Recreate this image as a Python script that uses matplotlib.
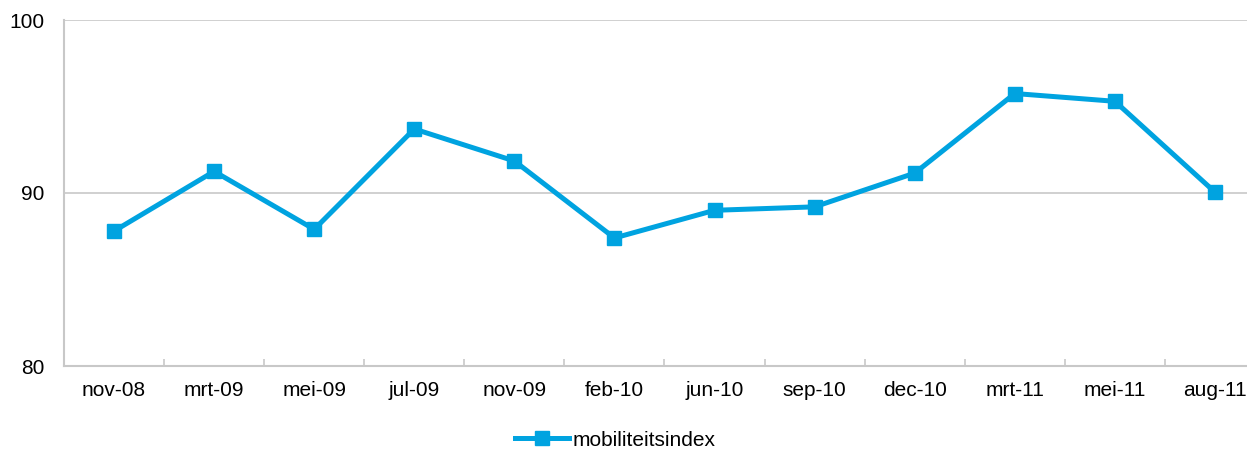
import matplotlib
matplotlib.use("Agg")
import matplotlib.pyplot as plt
from matplotlib.ticker import FixedLocator

categories = ["nov-08", "mrt-09", "mei-09", "jul-09", "nov-09", "feb-10",
              "jun-10", "sep-10", "dec-10", "mrt-11", "mei-11", "aug-11"]
values = [87.8, 91.25, 87.9, 93.7, 91.85, 87.4, 89.0, 89.2, 91.15, 95.75, 95.3, 90.05]
series_name = "mobiliteitsindex"
yticks = [80, 90, 100]

plt.rcParams['font.family'] = ['Liberation Sans', 'DejaVu Sans']

fig = plt.figure(figsize=(12.47, 4.51), dpi=100)
ax = fig.add_axes([64/1247, 85/451, 1201/1247, 346/451])

x = list(range(len(categories)))
color = "#00A3E0"
ax.plot(x, values, color=color, linewidth=3.6, marker="s", markersize=10,
        label=series_name, solid_joinstyle="miter", zorder=3)

ax.set_xlim(-0.5, len(categories) - 0.5)
ax.set_ylim(80, 100)
ax.set_yticks(yticks)
ax.set_yticklabels([str(v) for v in yticks], fontsize=15)
ax.yaxis.grid(True, color="#C8C8C8", linewidth=1.2)
ax.set_axisbelow(True)
ax.tick_params(axis="y", length=0, pad=14)

ax.set_xticks(x)
ax.set_xticklabels(categories, fontsize=15)
ax.tick_params(axis="x", which="major", length=0, pad=11)
ax.xaxis.set_minor_locator(FixedLocator([i + 0.5 for i in range(len(categories) - 1)]))
ax.tick_params(axis="x", which="minor", length=5, direction="in", color="#C8C8C8", width=1.2)

for s in ["top", "right"]:
    ax.spines[s].set_visible(False)
for s in ["left", "bottom"]:
    ax.spines[s].set_color("#C8C8C8")
    ax.spines[s].set_linewidth(1.5)

leg = fig.legend(loc="center", bbox_to_anchor=(615/1247, 1 - 440/451), frameon=False,
                 fontsize=15, handlelength=2.6, handletextpad=0.15)

fig.savefig("out.png", dpi=100)
